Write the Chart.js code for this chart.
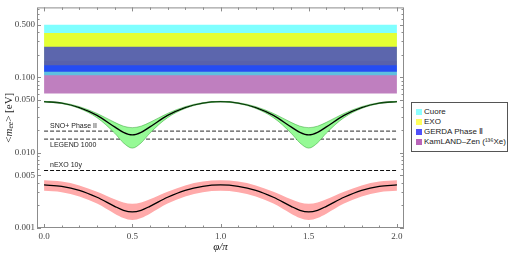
<!DOCTYPE html>
<html><head><meta charset="utf-8">
<script src="https://cdn.jsdelivr.net/npm/chart.js@4"></script>
<style>
html,body{margin:0;padding:0;background:#fff;}
#wrap{position:relative;width:514px;height:255px;overflow:hidden;}
#legend{position:absolute;left:411px;top:102px;width:97px;height:50px;border:1px solid #555;background:#fff;font:8px "Liberation Sans",Arial,sans-serif;color:#222;box-sizing:border-box;padding:4px 0 0 4px;}
.item{height:10px;line-height:10px;display:flex;align-items:center;white-space:nowrap;}
.sw{width:6px;height:6px;margin-right:2px;flex:none;}
</style></head><body>
<div id="wrap"><canvas id="c" width="514" height="255"></canvas><div id="legend"></div></div>
<script>
// ---- data ----
const phi = [0,0.1,0.2,0.3,0.4,0.45,0.5,0.55,0.6,0.7,0.8,0.9,1.0,1.1,1.2,1.3,1.4,1.45,1.5,1.55,1.6,1.7,1.8,1.9,2.0];
const ioCentral = [0.0476,0.0456,0.0398,0.0313,0.0220,0.0186,0.0172,0.0186,0.0220,0.0313,0.0398,0.0456,0.0476,0.0456,0.0398,0.0313,0.0220,0.0186,0.0172,0.0186,0.0220,0.0313,0.0398,0.0456,0.0476];
const ioUpper   = [0.0481,0.0462,0.0409,0.0332,0.0253,0.0225,0.0215,0.0225,0.0253,0.0332,0.0409,0.0462,0.0481,0.0462,0.0409,0.0332,0.0253,0.0225,0.0215,0.0225,0.0253,0.0332,0.0409,0.0462,0.0481];
const ioLower   = [0.0471,0.0449,0.0387,0.0292,0.0182,0.0135,0.0115,0.0135,0.0182,0.0292,0.0387,0.0449,0.0471,0.0449,0.0387,0.0292,0.0182,0.0135,0.0115,0.0135,0.0182,0.0292,0.0387,0.0449,0.0471];
const noCentral = [0.00373,0.00358,0.00317,0.00256,0.00194,0.00172,0.00164,0.00172,0.00194,0.00256,0.00317,0.00358,0.00373,0.00358,0.00317,0.00256,0.00194,0.00172,0.00164,0.00172,0.00194,0.00256,0.00317,0.00358,0.00373];
const noUpper   = [0.00429,0.00413,0.00368,0.00304,0.00240,0.00218,0.00210,0.00218,0.00240,0.00304,0.00368,0.00413,0.00429,0.00413,0.00368,0.00304,0.00240,0.00218,0.00210,0.00218,0.00240,0.00304,0.00368,0.00413,0.00429];
const noLower   = [0.00312,0.00299,0.00263,0.00211,0.00155,0.00136,0.00128,0.00136,0.00155,0.00211,0.00263,0.00299,0.00312,0.00299,0.00263,0.00211,0.00155,0.00136,0.00128,0.00136,0.00155,0.00211,0.00263,0.00299,0.00312];

const bandNames = ['Cuore','EXO','GERDA Phase Ⅱ','KamLAND–Zen (¹³⁶Xe)'];
const bandLow   = [0.107, 0.145, 0.119, 0.061];
const bandHigh  = [0.50, 0.39, 0.255, 0.165];

const refNames  = ['SNO+ Phase II','LEGEND 1000','nEXO 10y'];
const refValues = [0.0193, 0.0151, 0.0058];

const xTickVals = [0, 0.5, 1.0, 1.5, 2.0];
const yTickVals = [0.001, 0.005, 0.01, 0.05, 0.1, 0.5];
const xMinorStep = 0.1;
const yMinorVals = [0.002,0.003,0.004,0.006,0.007,0.008,0.009,0.02,0.03,0.04,0.06,0.07,0.08,0.09,0.2,0.3,0.4,0.6,0.7,0.8];

// ---- styles ----
const bandColors  = ['rgba(0,255,255,0.5)','rgba(255,255,0,0.8)','rgba(0,0,255,0.6)','rgba(128,0,128,0.5)'];
const swatchColors= ['rgb(140,255,255)','rgb(255,255,90)','rgb(80,80,250)','rgb(185,100,185)'];
const bandOrder   = [12, 11, 10, 13];
const refColors   = ['#555','#555','#111'];
const refLabelSide= [-1, 1, -1];

const pts = arr => phi.map((p,i)=>({x:p,y:arr[i]}));
const flat = (v) => [{x:0,y:v},{x:2,y:v}];

const datasets = [];
bandNames.forEach((n,i)=>{
  datasets.push({label:n, data:flat(bandHigh[i]), borderColor:'transparent', borderWidth:0, pointRadius:0,
    backgroundColor:bandColors[i], fill:{target:{value:bandLow[i]}, above:bandColors[i], below:bandColors[i]}, order:bandOrder[i]});
});
refNames.forEach((n,i)=>{
  datasets.push({label:n, data:flat(refValues[i]), borderColor:refColors[i], borderWidth:1.2, borderDash:[4,2], pointRadius:0, fill:false, order:9});
});
const noLowerIdx = datasets.length;
datasets.push({label:'noLower', data:pts(noLower), borderColor:'transparent', borderWidth:0, pointRadius:0, fill:false, cubicInterpolationMode:'monotone', order:8});
datasets.push({label:'noUpper', data:pts(noUpper), borderColor:'transparent', borderWidth:0, pointRadius:0, cubicInterpolationMode:'monotone',
  fill:{target:noLowerIdx, above:'rgb(255,170,170)', below:'rgb(255,170,170)'}, order:8});
const ioLowerIdx = datasets.length;
datasets.push({label:'ioLower', data:pts(ioLower), borderColor:'transparent', borderWidth:0, pointRadius:0, fill:false, cubicInterpolationMode:'monotone', order:7});
datasets.push({label:'ioUpper', data:pts(ioUpper), borderColor:'transparent', borderWidth:0, pointRadius:0, cubicInterpolationMode:'monotone',
  fill:{target:ioLowerIdx, above:'rgb(150,250,150)', below:'rgb(150,250,150)'}, order:7});
datasets.push({label:'noCentral', data:pts(noCentral), borderColor:'#000', borderWidth:1.3, pointRadius:0, fill:false, cubicInterpolationMode:'monotone', order:5});
datasets.push({label:'ioCentral', data:pts(ioCentral), borderColor:'#000', borderWidth:1.3, pointRadius:0, fill:false, cubicInterpolationMode:'monotone', order:5});
datasets.push({label:'ioUpperEdge', data:pts(ioUpper), borderColor:'rgba(30,150,30,0.45)', borderWidth:1, pointRadius:0, fill:false, cubicInterpolationMode:'monotone', order:4});
datasets.push({label:'ioLowerEdge', data:pts(ioLower), borderColor:'rgba(30,150,30,0.45)', borderWidth:1, pointRadius:0, fill:false, cubicInterpolationMode:'monotone', order:4});

const serif = '"Liberation Serif","Times New Roman",serif';
const sans = '"Liberation Sans",Arial,sans-serif';

const decor = {
  id:'decor',
  afterDatasetsDraw(chart){
    const {ctx, chartArea:a, scales:{x, y}} = chart;
    ctx.save();
    ctx.strokeStyle = '#8c8c8c'; ctx.lineWidth = 1;
    ctx.strokeRect(a.left+0.5, a.top+0.5, a.right-a.left-1, a.bottom-a.top-1);
    ctx.beginPath();
    for (let k=0; k<=20; k++){
      const v = k*xMinorStep;
      const major = xTickVals.some(t=>Math.abs(t-v)<1e-9);
      const len = major ? 4 : 2.5;
      const px = Math.round(x.getPixelForValue(v))+0.5;
      ctx.moveTo(px, a.bottom); ctx.lineTo(px, a.bottom-len);
      ctx.moveTo(px, a.top); ctx.lineTo(px, a.top+len);
    }
    const yt = yTickVals.map(v=>[v,4]).concat(yMinorVals.map(v=>[v,2.5]));
    yt.forEach(([v,len])=>{
      const py = Math.round(y.getPixelForValue(v))+0.5;
      ctx.moveTo(a.left, py); ctx.lineTo(a.left+len, py);
      ctx.moveTo(a.right, py); ctx.lineTo(a.right-len, py);
    });
    ctx.stroke();
    ctx.fillStyle = '#222';
    ctx.font = '7px ' + sans;
    ctx.textAlign = 'left';
    refNames.forEach((n,i)=>{
      const py = y.getPixelForValue(refValues[i]);
      const px = x.getPixelForValue(0) + 6;
      if (refLabelSide[i] < 0){ ctx.textBaseline='bottom'; ctx.fillText(n, px, py-2); }
      else { ctx.textBaseline='top'; ctx.fillText(n, px, py+2); }
    });
    ctx.fillStyle = '#222';
    ctx.translate(9, (a.top+a.bottom)/2);
    ctx.rotate(-Math.PI/2);
    ctx.textBaseline = 'middle';
    const parts = [
      {t:'<', f:'11px '+serif, dy:0},
      {t:'m', f:'italic 11px '+serif, dy:0},
      {t:'ee', f:'italic 7.5px '+serif, dy:2.5},
      {t:'> [eV]', f:'11px '+serif, dy:0}
    ];
    let total = 0;
    parts.forEach(p=>{ ctx.font=p.f; p.w=ctx.measureText(p.t).width; total+=p.w; });
    let cx = -total/2;
    parts.forEach(p=>{ ctx.font=p.f; ctx.fillText(p.t, cx, p.dy); cx+=p.w; });
    ctx.restore();
  }
};

new Chart(document.getElementById('c'), {
  type:'line',
  data:{datasets},
  options:{
    responsive:false, animation:false, devicePixelRatio:1,
    layout:{padding:{top:2, right:110, left:0, bottom:0}},
    plugins:{legend:{display:false}, tooltip:{enabled:false}},
    scales:{
      x:{type:'linear', min:-0.04, max:2.04,
        grid:{display:false, drawTicks:false}, border:{display:false},
        afterBuildTicks:s=>{ s.ticks = xTickVals.map(v=>({value:v})); },
        afterFit:s=>{ s.height = 27; },
        ticks:{autoSkip:false, maxRotation:0, padding:3, color:'#444', font:{family:serif, size:9}, callback:v=>Number(v).toFixed(1)},
        title:{display:true, text:'φ/π', color:'#222', font:{family:serif, size:11, style:'italic'}, padding:{top:0,bottom:1}}
      },
      y:{type:'logarithmic', min:0.001, max:0.85,
        grid:{display:false, drawTicks:false}, border:{display:false},
        afterBuildTicks:s=>{ s.ticks = yTickVals.map(v=>({value:v})); },
        afterFit:s=>{ s.width = 37; },
        ticks:{autoSkip:false, padding:2, color:'#444', font:{family:serif, size:9}, callback:v=>Number(v).toFixed(3)}
      }
    }
  },
  plugins:[decor]
});

const lg = document.getElementById('legend');
bandNames.forEach((n,i)=>{
  const it = document.createElement('div'); it.className='item';
  const sw = document.createElement('span'); sw.className='sw'; sw.style.background = swatchColors[i];
  const tx = document.createElement('span'); tx.textContent = n;
  it.appendChild(sw); it.appendChild(tx); lg.appendChild(it);
});
</script>
</body></html>
